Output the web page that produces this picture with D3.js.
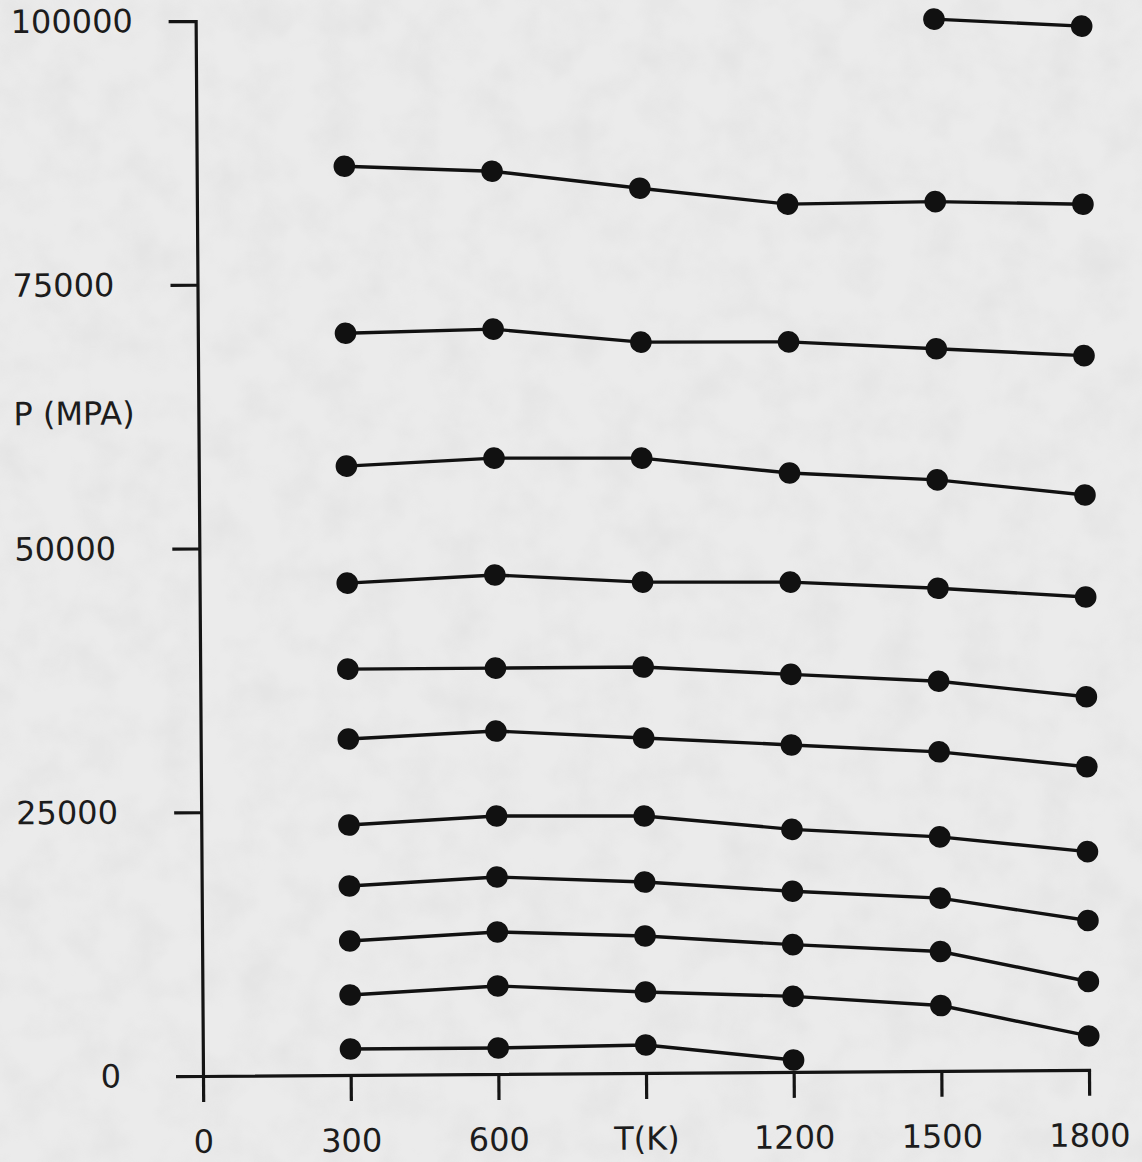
<!DOCTYPE html>
<html>
<head>
<meta charset="utf-8">
<script src="https://cdn.jsdelivr.net/npm/d3@7"></script>
<style>
body { margin: 0; background: #e8e8e8; }
svg { display: block; }
.axis path, .axis line { stroke: #141414; stroke-width: 3.2; }
.axis text, .title { font-family: "DejaVu Sans", sans-serif; font-size: 32px; fill: #1c1c1c; }
.isobar { fill: none; stroke: #111; stroke-width: 3.4; }
.dot { fill: #111; }
</style>
</head>
<body>
<div id="chart"></div>
<script>

// temperatures (K) at which each isobar was sampled
var temps = [300, 600, 900, 1200, 1500, 1800]

// pressure (MPa), bottom to top; null = no point
var iso1  = [2460, 2460, 2650, 1130, null, null]
var iso2  = [7580, 8340, 7670, 7160, 6190, 3210]
var iso3  = [12700, 13460, 12980, 12060, 11310, 8370]
var iso4  = [17910, 18670, 18090, 17120, 16370, 14150]
var iso5  = [23690, 24450, 24350, 22990, 22180, 20680]
var iso6  = [31840, 32500, 31740, 30990, 30240, 28730]
var iso7  = [38470, 38470, 38470, 37680, 36930, 35360]
var iso8  = [46620, 47290, 46520, 46420, 45740, 44820]
var iso9  = [57710, 58370, 58270, 56770, 56020, 54490]
var iso10 = [70310, 70600, 69270, 69200, 68450, 67700]
var iso11 = [86140, 85570, 83860, 82250, 82390, 82050]
var iso12 = [null, null, null, null, 99690, 98930]

var xTicks = [0, 300, 600, 900, 1200, 1500, 1800]
var xTickLabels = ['0', '300', '600', 'T(K)', '1200', '1500', '1800']
var yTicks = [0, 25000, 50000, 75000, 100000]

var series = [iso1, iso2, iso3, iso4, iso5, iso6, iso7, iso8, iso9, iso10, iso11, iso12]
  .map(function(vals){
    return temps
      .map(function(t, i){ return {t: t, p: vals[i]} })
      .filter(function(d){ return d.p != null })
  })

var totalWidth = 1142, totalHeight = 1162
var margin = {left: 203, top: 21, right: 53, bottom: 86}
var width = totalWidth - margin.left - margin.right
var height = totalHeight - margin.top - margin.bottom

var svg = d3.select('#chart').append('svg')
  .attr('width', totalWidth)
  .attr('height', totalHeight)

// mottled paper
var filt = svg.append('defs').append('filter').attr('id', 'paper')
  .attr('x', 0).attr('y', 0).attr('width', '100%').attr('height', '100%')
filt.append('feTurbulence').attr('type', 'fractalNoise')
  .attr('baseFrequency', 0.025).attr('numOctaves', 3).attr('seed', 4)
filt.append('feColorMatrix').attr('type', 'matrix')
  .attr('values', '0 0 0 0 0.55  0 0 0 0 0.55  0 0 0 0 0.55  0 0 0 -0.9 0.55')
svg.append('rect').attr('width', totalWidth).attr('height', totalHeight).attr('fill', '#ebebeb')
svg.append('rect').attr('width', totalWidth).attr('height', totalHeight)
  .attr('filter', 'url(#paper)').attr('opacity', 0.35)

// the scanned sheet sits a hair off square
var g = svg.append('g')
  .attr('transform', 'translate(' + margin.left + ',' + margin.top + ') rotate(-0.4, 0, ' + height + ')')

var x = d3.scaleLinear().domain([0, 1800]).range([0, width])
var y = d3.scaleLinear().domain([0, 100000]).range([height, 0])

var xAxis = g.append('g').attr('class', 'axis')
  .attr('transform', 'translate(0,' + height + ')')
  .call(d3.axisBottom(x)
    .tickValues(xTicks)
    .tickSize(26)
    .tickSizeOuter(0)
    .tickPadding(28)
    .tickFormat(function(d, i){ return xTickLabels[i] }))

var yAxis = g.append('g').attr('class', 'axis')
  .call(d3.axisLeft(y)
    .tickValues(yTicks)
    .tickSize(27)
    .tickSizeOuter(0)
    .tickFormat(d3.format('d')))

yAxis.selectAll('.tick text')
  .attr('text-anchor', function(d){ return d == 0 ? 'end' : 'start' })
  .attr('x', function(d){ return d == 0 ? -82 : -185 })

g.append('text').attr('class', 'title')
  .attr('x', -185).attr('y', 403)
  .text('P (MPA)')

var line = d3.line()
  .x(function(d){ return x(d.t) })
  .y(function(d){ return y(d.p) })

var iso = g.selectAll('g.iso').data(series).enter().append('g').attr('class', 'iso')

iso.append('path').attr('class', 'isobar').attr('d', line)

iso.selectAll('circle').data(function(d){ return d }).enter().append('circle')
  .attr('class', 'dot')
  .attr('cx', function(d){ return x(d.t) })
  .attr('cy', function(d){ return y(d.p) })
  .attr('r', 10.8)

g.selectAll('.axis .domain').attr('stroke-linecap', 'square')
</script>
</body>
</html>
